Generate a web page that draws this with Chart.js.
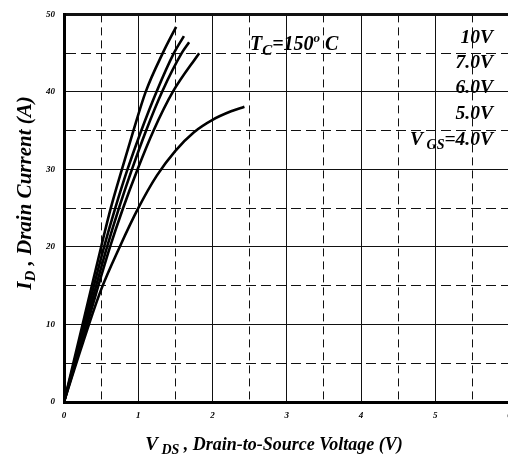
<!DOCTYPE html>
<html>
<head>
<meta charset="utf-8">
<script src="https://cdn.jsdelivr.net/npm/chart.js@4.4.0/dist/chart.umd.min.js"></script>
<style>
	html, body { margin: 0; padding: 0; background: #fff; overflow: hidden; }
	canvas { display: block; }
</style>
</head>
<body>
<canvas id="ivChart" width="520" height="460"></canvas>
<script>
// output curves, VDS (V) vs ID (A), TC = 150 C
const vds10V = [0, 0.25, 0.5, 0.63, 0.78, 0.935, 1.1, 1.33, 1.51];
const id10V = [0, 10, 20, 25, 30, 35, 40, 45, 48.4];
const vds7V = [0, 0.27, 0.54, 0.69, 0.855, 1.04, 1.245, 1.48, 1.615];
const id7V = [0, 10, 20, 25, 30, 35, 40, 45, 47.2];
const vds6V = [0, 0.29, 0.58, 0.74, 0.915, 1.105, 1.32, 1.585, 1.685];
const id6V = [0, 10, 20, 25, 30, 35, 40, 45, 46.4];
const vds5V = [0, 0.31, 0.62, 0.795, 0.99, 1.205, 1.465, 1.82];
const id5V = [0, 10, 20, 25, 30, 35, 40, 45];
const vds4V = [0, 0.25, 0.5, 0.75, 1.0, 1.25, 1.5, 1.75, 2.0, 2.25, 2.43];
const id4V = [0, 7.5, 14.5, 20, 25, 29.2, 32.4, 34.8, 36.4, 37.5, 38.1];

const vgsLabels = ["10V", "7.0V", "6.0V", "5.0V", "=4.0V"];
const xTickLabels = [0, 1, 2, 3, 4, 5, 6];
const yTickLabels = [0, 10, 20, 30, 40, 50];

const serif = "'Liberation Serif', 'Times New Roman', serif";
const fontOf = (size) => `italic bold ${size}px ${serif}`;

function toPoints(xs, ys) {
	return xs.map((x, i) => ({ x: x, y: ys[i] }));
}

function curve(xs, ys) {
	return {
		data: toPoints(xs, ys),
		borderColor: "#000",
		borderWidth: 2.6,
		pointRadius: 0,
		fill: false,
		cubicInterpolationMode: "monotone",
	};
}

// draw a run of text pieces [text, size, dy]
function drawParts(ctx, parts, x, y, align) {
	let total = 0;
	parts.forEach((p) => {
		ctx.font = fontOf(p[1]);
		total += ctx.measureText(p[0]).width;
	});
	let cx = x;
	if (align === "right") cx = x - total;
	if (align === "center") cx = x - total / 2;
	parts.forEach((p) => {
		ctx.font = fontOf(p[1]);
		ctx.fillText(p[0], cx, y + (p[2] || 0));
		cx += ctx.measureText(p[0]).width;
	});
}

const textPlugin = {
	id: "texts",
	afterDraw(chart) {
		const ctx = chart.ctx;
		ctx.save();
		ctx.fillStyle = "#000";
		ctx.textBaseline = "alphabetic";
		ctx.textAlign = "left";

		// x title
		drawParts(ctx, [["V", 19], [" DS", 14, 4], [" , Drain-to-Source Voltage (V)", 18]], 274, 450, "center");

		// y title
		ctx.save();
		ctx.translate(31, 193);
		ctx.rotate(-Math.PI / 2);
		drawParts(ctx, [["I", 21], ["D", 15, 4], [" , Drain Current (A)", 21]], 0, 0, "center");
		ctx.restore();

		// case temperature
		drawParts(ctx, [["T", 20], ["C", 15, 5], ["=150", 20], ["o", 13, -8], [" C", 20]], 250, 50, "left");

		// gate voltages
		const base = [43, 68, 93, 119];
		for (let i = 0; i < 4; i++) {
			drawParts(ctx, [[vgsLabels[i], 19.5]], 493, base[i], "right");
		}
		drawParts(ctx, [["V", 19.5], [" GS", 14, 4], [vgsLabels[4], 19.5]], 493, 145, "right");
		ctx.restore();
	},
};

new Chart(document.getElementById("ivChart"), {
	type: "line",
	data: {
		datasets: [
			curve(vds10V, id10V),
			curve(vds7V, id7V),
			curve(vds6V, id6V),
			curve(vds5V, id5V),
			curve(vds4V, id4V),
		],
	},
	options: {
		responsive: false,
		animation: false,
		layout: { padding: { top: 10, right: 10.5, left: 0, bottom: 0 } },
		plugins: { legend: { display: false }, tooltip: { enabled: false } },
		scales: {
			x: {
				type: "linear",
				min: 0,
				max: 6,
				afterFit: (scale) => { scale.height = 58; },
				ticks: {
					stepSize: 0.5,
					autoSkip: false,
					maxRotation: 0,
					padding: 8,
					color: "#000",
					font: { family: serif, size: 9, style: "italic", weight: "bold" },
					callback: (v) => (xTickLabels.includes(v) ? v : ""),
				},
				grid: {
					drawTicks: false,
					color: "#111",
					lineWidth: (c) => (c.tick && c.tick.value === 6 ? 2.5 : 1),
				},
				border: {
					display: true,
					color: "#000",
					width: 3,
					dash: (c) => (c.tick && c.tick.value % 1 !== 0 ? [8, 5] : []),
				},
			},
			y: {
				min: 0,
				max: 50,
				afterFit: (scale) => { scale.width = 64; },
				ticks: {
					stepSize: 5,
					autoSkip: false,
					padding: 9,
					color: "#000",
					font: { family: serif, size: 9, style: "italic", weight: "bold" },
					callback: (v) => (yTickLabels.includes(v) ? v : ""),
				},
				grid: {
					drawTicks: false,
					color: "#111",
					lineWidth: (c) => (c.tick && c.tick.value === 50 ? 3 : 1),
				},
				border: {
					display: true,
					color: "#000",
					width: 3,
					dash: (c) => (c.tick && c.tick.value % 10 !== 0 ? [10, 5] : []),
				},
			},
		},
	},
	plugins: [textPlugin],
});
</script>
</body>
</html>
